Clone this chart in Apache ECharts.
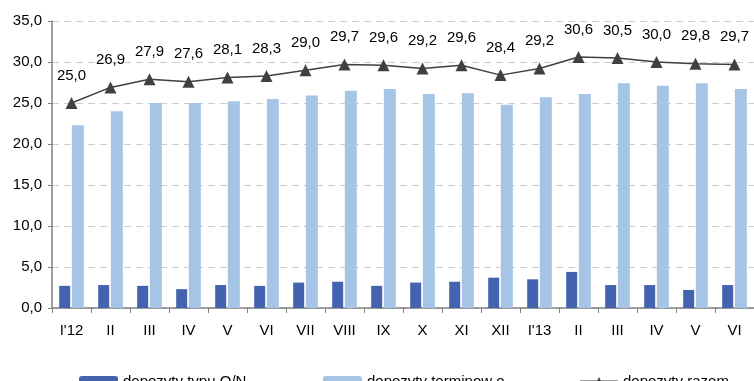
<!DOCTYPE html>
<html>
<head>
<meta charset="utf-8">
<script src="https://cdn.jsdelivr.net/npm/echarts@6/dist/echarts.min.js"></script>
<style>
html,body{margin:0;padding:0;background:#fff;}
#chart{width:754px;height:381px;}
</style>
</head>
<body>
<div id="chart"></div>
<script>
var months = ["I'12", "II", "III", "IV", "V", "VI", "VII", "VIII", "IX", "X", "XI", "XII", "I'13", "II", "III", "IV", "V", "VI"];
var depOn = [2.7, 2.8, 2.7, 2.3, 2.8, 2.7, 3.1, 3.2, 2.7, 3.1, 3.2, 3.7, 3.5, 4.4, 2.8, 2.8, 2.2, 2.8];
var depTerm = [22.3, 24.0, 25.0, 25.0, 25.2, 25.5, 25.9, 26.5, 26.7, 26.1, 26.2, 24.8, 25.7, 26.1, 27.4, 27.1, 27.4, 26.7];
var depRazem = [25.0, 26.9, 27.9, 27.6, 28.1, 28.3, 29.0, 29.7, 29.6, 29.2, 29.6, 28.4, 29.2, 30.6, 30.5, 30.0, 29.8, 29.7];

var chart = echarts.init(document.getElementById('chart'));
// przecinek jako separator dziesietny
function fmt(v) {
    return Number(v).toFixed(1).replace('.', ',');
}
var font = 'Liberation Sans, Arial, sans-serif';

var option = {
    animation: false,
    grid: {left: 52, top: 21, width: 706, height: 287},
    legend: [
        {
            data: ['depozyty typu O/N'],
            left: 74, top: 369,
            itemWidth: 39, itemHeight: 11,
            textStyle: {fontFamily: font, fontSize: 15, color: '#000'}
        },
        {
            data: ['depozyty terminow e'],
            left: 318, top: 369,
            itemWidth: 39, itemHeight: 11,
            textStyle: {fontFamily: font, fontSize: 15, color: '#000'}
        },
        {
            data: ['depozyty razem'],
            left: 574, top: 369,
            itemWidth: 38, itemHeight: 11,
            textStyle: {fontFamily: font, fontSize: 15, color: '#000'}
        }
    ],
    xAxis: {
        type: 'category',
        data: months,
        axisLine: {lineStyle: {color: '#808080', width: 1.5}},
        axisTick: {show: true, length: 5, lineStyle: {color: '#808080'}},
        axisLabel: {fontFamily: font, fontSize: 15, color: '#000', margin: 15},
        splitLine: {show: false}
    },
    yAxis: {
        type: 'value',
        min: 0, max: 35, interval: 5,
        axisLine: {show: true, lineStyle: {color: '#808080', width: 1.5}},
        axisTick: {show: true, length: 4, lineStyle: {color: '#808080'}},
        axisLabel: {fontFamily: font, fontSize: 15, color: '#000', margin: 10, formatter: fmt},
        splitLine: {lineStyle: {color: '#cccccc', type: [7, 5]}}
    },
    series: [
        {
            name: 'depozyty typu O/N',
            type: 'bar',
            data: depOn,
            barWidth: 11,
            barGap: '15%',
            itemStyle: {color: '#4463ae'}
        },
        {
            name: 'depozyty terminow e',
            type: 'bar',
            data: depTerm,
            barWidth: 12,
            itemStyle: {color: '#a6c5e6'}
        },
        {
            name: 'depozyty razem',
            type: 'line',
            data: depRazem,
            symbol: 'triangle',
            symbolSize: 12,
            lineStyle: {color: '#404040', width: 1.5},
            itemStyle: {color: '#404040'},
            label: {
                show: true,
                position: 'top',
                distance: 14,
                fontFamily: font,
                fontSize: 15,
                color: '#000',
                formatter: function (p) { return fmt(p.value); }
            }
        }
    ]
};
chart.setOption(option);
</script>
</body>
</html>
